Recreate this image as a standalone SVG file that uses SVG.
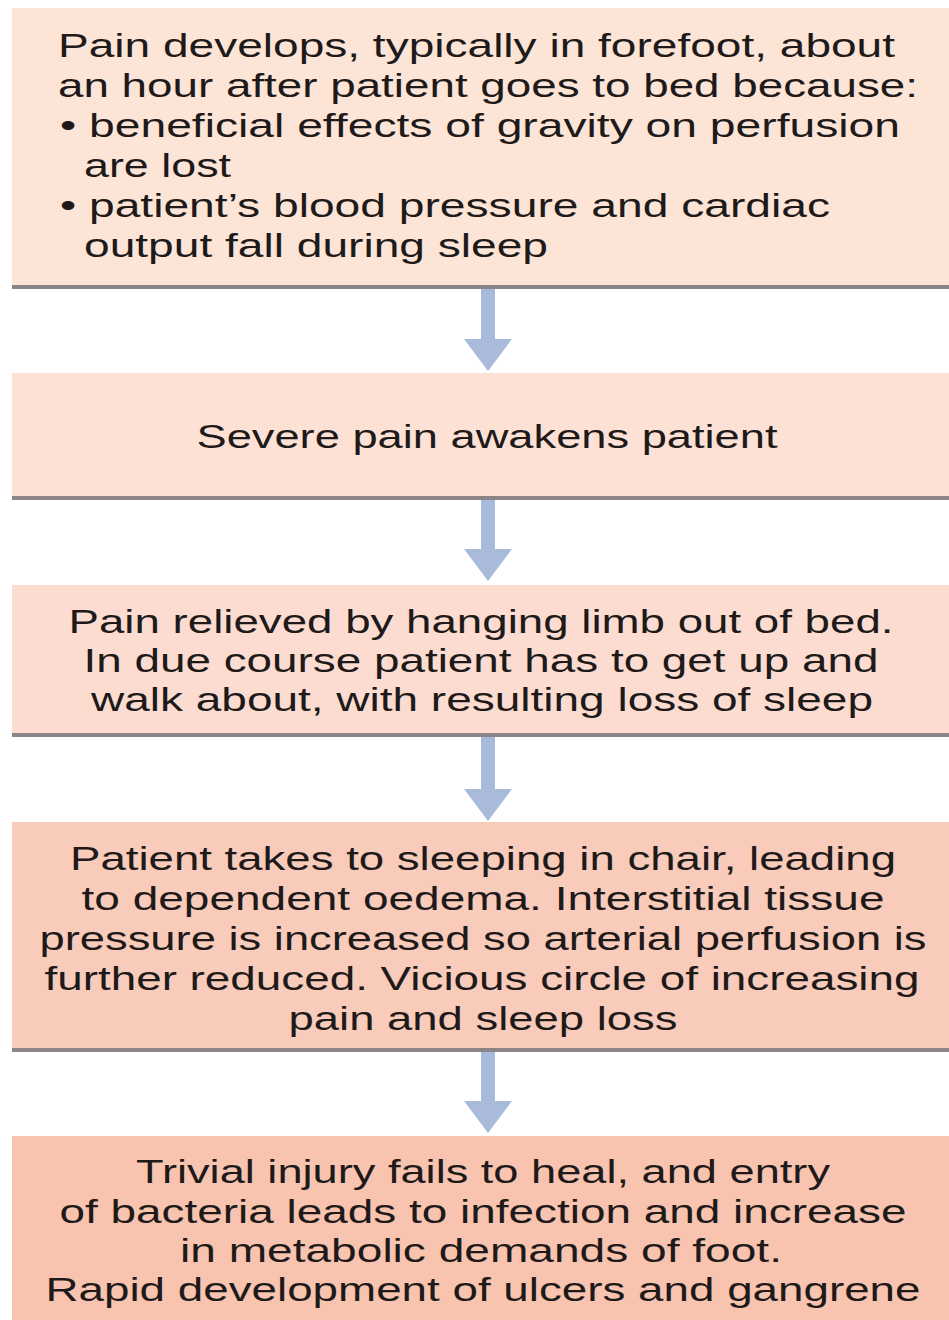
<svg xmlns="http://www.w3.org/2000/svg" width="949" height="1320" viewBox="0 0 949 1320">
<style>
  .t { font-family: "Liberation Sans", Arial, Helvetica, sans-serif; font-size: 34px; fill: #1e1a1a; }
  .c { text-anchor: middle; }
  .rule { fill: #8c8585; }
  .arrow { fill: #a9badb; }
</style>
<rect x="0" y="0" width="949" height="1320" fill="#ffffff"/>
<g id="connectors">
  <path class="arrow" d="M481,289 H495 V339 H512 L488,371 L464,339 H481 Z"/>
  <path class="arrow" d="M481,499 H495 V549 H512 L488,581 L464,549 H481 Z"/>
  <path class="arrow" d="M481,737 H495 V789 H512 L488,821 L464,789 H481 Z"/>
  <path class="arrow" d="M481,1052 H495 V1101 H512 L488,1133 L464,1101 H481 Z"/>
</g>
<g id="node1">
  <rect x="12" y="8" width="937" height="278" fill="#fce4d7"/>
  <rect class="rule" x="12" y="285" width="937" height="4"/>
  <text class="t" x="58" y="57" textLength="837" lengthAdjust="spacingAndGlyphs">Pain develops, typically in forefoot, about</text>
  <text class="t" x="58" y="97" textLength="860" lengthAdjust="spacingAndGlyphs">an hour after patient goes to bed because:</text>
  <text class="t" x="60" y="137" textLength="840" lengthAdjust="spacingAndGlyphs">• beneficial effects of gravity on perfusion</text>
  <text class="t" x="84" y="177" textLength="147" lengthAdjust="spacingAndGlyphs">are lost</text>
  <text class="t" x="60" y="217" textLength="770" lengthAdjust="spacingAndGlyphs">• patient’s blood pressure and cardiac</text>
  <text class="t" x="84" y="257" textLength="464" lengthAdjust="spacingAndGlyphs">output fall during sleep</text>
</g>
<g id="node2">
  <rect x="12" y="373" width="937" height="124" fill="#fde1d5"/>
  <rect class="rule" x="12" y="496" width="937" height="4"/>
  <text class="t c" x="487" y="448" textLength="581" lengthAdjust="spacingAndGlyphs">Severe pain awakens patient</text>
</g>
<g id="node3">
  <rect x="12" y="585" width="937" height="149" fill="#fcdcd0"/>
  <rect class="rule" x="12" y="733" width="937" height="4"/>
  <text class="t c" x="481" y="633" textLength="825" lengthAdjust="spacingAndGlyphs">Pain relieved by hanging limb out of bed.</text>
  <text class="t c" x="481" y="672" textLength="795" lengthAdjust="spacingAndGlyphs">In due course patient has to get up and</text>
  <text class="t c" x="482" y="711" textLength="782" lengthAdjust="spacingAndGlyphs">walk about, with resulting loss of sleep</text>
</g>
<g id="node4">
  <rect x="12" y="822" width="937" height="227" fill="#f9cbba"/>
  <rect class="rule" x="12" y="1048" width="937" height="4"/>
  <text class="t c" x="483" y="870" textLength="826" lengthAdjust="spacingAndGlyphs">Patient takes to sleeping in chair, leading</text>
  <text class="t c" x="483" y="910" textLength="803" lengthAdjust="spacingAndGlyphs">to dependent oedema. Interstitial tissue</text>
  <text class="t c" x="483" y="950" textLength="887" lengthAdjust="spacingAndGlyphs">pressure is increased so arterial perfusion is</text>
  <text class="t c" x="482" y="990" textLength="875" lengthAdjust="spacingAndGlyphs">further reduced. Vicious circle of increasing</text>
  <text class="t c" x="483" y="1030" textLength="389" lengthAdjust="spacingAndGlyphs">pain and sleep loss</text>
</g>
<g id="node5">
  <rect x="12" y="1136" width="937" height="184" fill="#f8c3af"/>
  <text class="t c" x="483" y="1183" textLength="694" lengthAdjust="spacingAndGlyphs">Trivial injury fails to heal, and entry</text>
  <text class="t c" x="483" y="1223" textLength="847" lengthAdjust="spacingAndGlyphs">of bacteria leads to infection and increase</text>
  <text class="t c" x="481" y="1262" textLength="602" lengthAdjust="spacingAndGlyphs">in metabolic demands of foot.</text>
  <text class="t c" x="483" y="1301" textLength="875" lengthAdjust="spacingAndGlyphs">Rapid development of ulcers and gangrene</text>
</g>
</svg>
